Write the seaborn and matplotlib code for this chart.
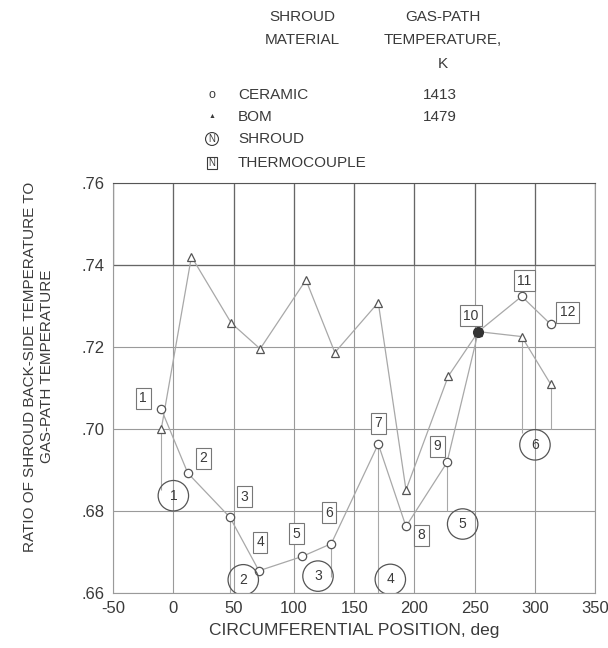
import numpy as np
import pandas as pd
import matplotlib
matplotlib.use('Agg')
import matplotlib.pyplot as plt
import seaborn as sns

# --- data ---
bom_x = [-10, 15, 48, 72, 110, 134, 170, 193, 228, 253, 289, 313]
bom_y = [0.700, 0.742, 0.7258, 0.7195, 0.7363, 0.7186, 0.7308, 0.6851, 0.7128, 0.7237, 0.7225, 0.7109]

ceramic_x = [-10, 12, 47, 71, 107, 131, 170, 193, 227, 253, 289, 313]
ceramic_y = [0.7048, 0.6892, 0.6784, 0.6654, 0.6689, 0.6720, 0.6963, 0.6762, 0.6918, 0.7237, 0.7323, 0.7255]

# thermocouple number boxes (label positions)
tc_labels = ['1', '2', '3', '4', '5', '6', '7', '8', '9', '10', '11', '12']
tc_x = [-25, 25, 59, 72, 102, 129, 170, 206, 219, 247, 291, 327]
tc_y = [0.7075, 0.6928, 0.6835, 0.6723, 0.6744, 0.6796, 0.7014, 0.6740, 0.6958, 0.7276, 0.7361, 0.7284]

# shroud number circles
shroud_labels = ['1', '2', '3', '4', '5', '6']
shroud_x = [0, 58, 120, 180, 240, 300]
shroud_y = [0.6837, 0.6632, 0.6641, 0.6633, 0.6768, 0.6961]

# thin vertical leader lines from points to shrouds
lead_x = [-10, 47, 131, 170, 227, 289, 313]
lead_top = [0.700, 0.678, 0.672, 0.696, 0.692, 0.7225, 0.711]
lead_bot = [0.685, 0.660, 0.664, 0.660, 0.680, 0.699, 0.700]

x_ticks = [-50, 0, 50, 100, 150, 200, 250, 300, 350]
y_ticks = [0.66, 0.68, 0.70, 0.72, 0.74, 0.76]
y_tick_labels = ['.66', '.68', '.70', '.72', '.74', '.76']

# --- style ---
sns.set_style('white')
plt.rcParams['font.family'] = ['Liberation Sans', 'DejaVu Sans']
ink = '#3a3a3a'
line_c = '#a8a8a8'
grid_c = '#9a9a9a'

fig = plt.figure(figsize=(6.08, 6.48), dpi=100)
ax = fig.add_axes([0.186, 0.085, 0.793, 0.633])

# grid (upper band is drawn darker in the original)
for xv in x_ticks:
    ax.axvline(xv, color=grid_c, lw=0.8, zorder=0)
    ax.vlines(xv, 0.74, 0.76, color='#666666', lw=0.9, zorder=0)
for yv in y_ticks:
    ax.axhline(yv, color=grid_c, lw=0.8, zorder=0)
ax.axhline(0.74, color='#666666', lw=0.9, zorder=0)

# leader lines
ax.vlines(lead_x, lead_bot, lead_top, color=line_c, lw=0.8, zorder=1)

bom = pd.DataFrame({'x': bom_x, 'y': bom_y})
cer = pd.DataFrame({'x': ceramic_x, 'y': ceramic_y})

sns.lineplot(data=bom, x='x', y='y', sort=False, ax=ax, color=line_c, lw=0.9,
             marker='^', markersize=6, markerfacecolor='white',
             markeredgecolor='#555555', markeredgewidth=0.9, zorder=2)
sns.lineplot(data=cer, x='x', y='y', sort=False, ax=ax, color=line_c, lw=0.9,
             marker='o', markersize=6, markerfacecolor='white',
             markeredgecolor='#555555', markeredgewidth=0.9, zorder=2)
# point 10 is shown filled
ax.plot(ceramic_x[9], ceramic_y[9], 'o', ms=7, color='#333333', zorder=3)

# shroud circles
sns.scatterplot(x=shroud_x, y=shroud_y, ax=ax, s=480, marker='o',
                facecolor='none', edgecolor='#555555', linewidth=0.9, zorder=3)
for lab, sx, sy in zip(shroud_labels, shroud_x, shroud_y):
    ax.text(sx, sy, lab, ha='center', va='center', fontsize=10, color=ink, zorder=4)

# thermocouple boxes
for lab, tx, ty in zip(tc_labels, tc_x, tc_y):
    ax.text(tx, ty, lab, ha='center', va='center', fontsize=10, color=ink, zorder=4,
            bbox=dict(boxstyle='square,pad=0.25', fc='white', ec='#777777', lw=0.8))

ax.set_xlim(-50, 350)
ax.set_ylim(0.66, 0.76)
ax.set_xticks(x_ticks)
ax.set_xticklabels([str(v) for v in x_ticks])
ax.set_yticks(y_ticks)
ax.set_yticklabels(y_tick_labels)
ax.tick_params(axis='both', labelsize=12, colors=ink, length=0, pad=6)
for s in ax.spines.values():
    s.set_color(grid_c)
    s.set_linewidth(0.8)
ax.spines['top'].set_color('#555555')
ax.set_xlabel('CIRCUMFERENTIAL POSITION, deg', fontsize=12.5, color=ink, labelpad=5)
ax.set_ylabel('')
fig.text(0.049, 0.434, 'RATIO OF SHROUD BACK-SIDE TEMPERATURE TO', rotation=90,
         ha='center', va='center', fontsize=11, color=ink)
fig.text(0.077, 0.434, 'GAS-PATH TEMPERATURE', rotation=90,
         ha='center', va='center', fontsize=11, color=ink)

# legend block at the top
def fx(px):
    return px / 608

def fy(py):
    return 1 - py / 648

fig.text(fx(302), fy(17), 'SHROUD', ha='center', va='center', fontsize=11, color=ink)
fig.text(fx(302), fy(40), 'MATERIAL', ha='center', va='center', fontsize=11, color=ink)
fig.text(fx(443), fy(17), 'GAS-PATH', ha='center', va='center', fontsize=11, color=ink)
fig.text(fx(443), fy(40), 'TEMPERATURE,', ha='center', va='center', fontsize=11, color=ink)
fig.text(fx(443), fy(64), 'K', ha='center', va='center', fontsize=11, color=ink)

leg_names = ['CERAMIC', 'BOM', 'SHROUD', 'THERMOCOUPLE']
leg_temps = ['1413', '1479', '', '']
leg_rows = [95, 117, 139, 163]
fig.text(fx(212), fy(95), 'o', ha='center', va='center', fontsize=9, color=ink)
fig.text(fx(212), fy(117), '\u25b2', ha='center', va='center', fontsize=5, color=ink)
fig.text(fx(212), fy(139), 'N', ha='center', va='center', fontsize=7, color=ink,
         bbox=dict(boxstyle='circle,pad=0.15', fc='white', ec=ink, lw=0.8))
fig.text(fx(212), fy(163), 'N', ha='center', va='center', fontsize=7, color=ink,
         bbox=dict(boxstyle='square,pad=0.15', fc='white', ec=ink, lw=0.8))
for name, temp, r in zip(leg_names, leg_temps, leg_rows):
    fig.text(fx(238), fy(r), name, ha='left', va='center', fontsize=11, color=ink)
    if temp:
        fig.text(fx(440), fy(r), temp, ha='center', va='center', fontsize=11, color=ink)

fig.savefig('out.png', dpi=100)
